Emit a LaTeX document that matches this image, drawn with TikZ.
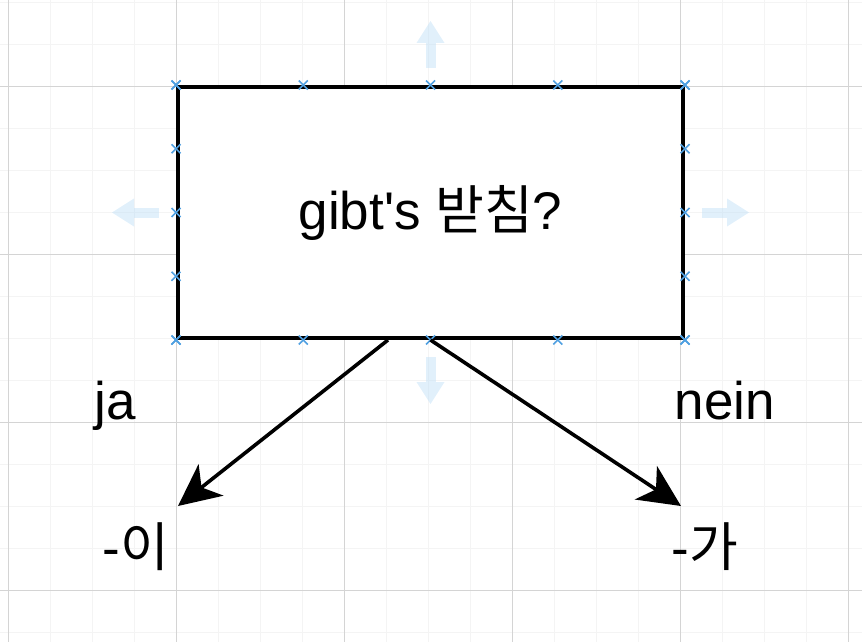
\documentclass[tikz,border=0pt]{standalone}
\usepackage{fontspec}
\setmainfont{Liberation Sans}[Ligatures=TeXOff]
\newfontfamily\kr{Noto Sans CJK KR}
\usetikzlibrary{arrows.meta,calc}
\definecolor{gridminor}{RGB}{244,244,244}
\definecolor{gridmajor}{RGB}{212,212,212}
\definecolor{hintblue}{RGB}{195,225,247}
\definecolor{markblue}{RGB}{80,160,225}
\newcommand\bigfont{\fontsize{53}{60}\selectfont}
\tikzset{
    minorline/.style = {draw=gridminor,
                    line width=1pt},
    majorline/.style = {draw=gridmajor,
                    line width=1pt},
    box/.style =    {rectangle,
                    fill=white,
                    draw=black,
                    text=black,
                    line width=4pt,
                    inner sep=0pt,
                    minimum width=505pt,
                    minimum height=251pt,
                    font=\bigfont},
    answer/.style = {text=black,
                    inner sep=0pt,
                    font=\bigfont},
    hint/.style =   {fill=hintblue,
                    fill opacity=0.5,
                    draw=none},
    cross/.style =  {draw=markblue,
                    line width=1.6pt},
    flow/.style =   {draw=black,
                    line width=3.6pt,
                    -{Stealth[length=42pt,width=40pt,inset=12pt]}}
}

\begin{document}
\begin{tikzpicture}[x=1pt,y=-1pt]
    \useasboundingbox (0,0) rectangle (862,642);
    % grid
    \foreach \i in {0,...,20}
        \draw[minorline] ({8.3+42*\i},0) -- ({8.3+42*\i},642);
    \foreach \j in {0,...,15}
        \draw[minorline] (0,{2.7+42*\j}) -- (862,{2.7+42*\j});
    \foreach \i in {0,...,5}
        \draw[majorline] ({8.3+168*\i},0) -- ({8.3+168*\i},642);
    \foreach \j in {0,...,3}
        \draw[majorline] (0,{86.7+168*\j}) -- (862,{86.7+168*\j});

    \node[box] (q) at (430.5,212.5) {gibt's {\kr 받침}?};

    % hover arrows
    \foreach \a/\p in {0/east,90/north,180/west,270/south}{
        \begin{scope}[shift={(q.\p)},rotate=\a]
            \fill[hint] (17,-5) rectangle (42,5);
            \fill[hint] (42,-14) -- (64,0) -- (42,14) -- cycle;
        \end{scope}
    }
    % connection points
    \foreach \t in {0,0.25,0.5,0.75,1}
        \foreach \a/\b in {north west/north east,south west/south east,north west/south west,north east/south east}
            \draw[cross] ($(q.\a)!\t!(q.\b)$) +(-4.5,-4.5) -- +(4.5,4.5) +(-4.5,4.5) -- +(4.5,-4.5);

    \node[answer,anchor=base] (ja)   at (115,419) {ja};
    \node[answer,anchor=base] (nein) at (725,419) {nein};
    \node[answer,anchor=base] (i)    at (136,566) {-{\kr 이}};
    \node[answer,anchor=base] (ga)   at (705,566) {-{\kr 가}};

    \coordinate (ja-start)  at ($(q.south)+(-42.5,0)$);
    \coordinate (ja-end)    at (178,506);
    \coordinate (nein-end)  at (681,506);
    \draw[flow] (ja-start) -- (ja-end);
    \draw[flow] (q.south) -- (nein-end);
\end{tikzpicture}
\end{document}
